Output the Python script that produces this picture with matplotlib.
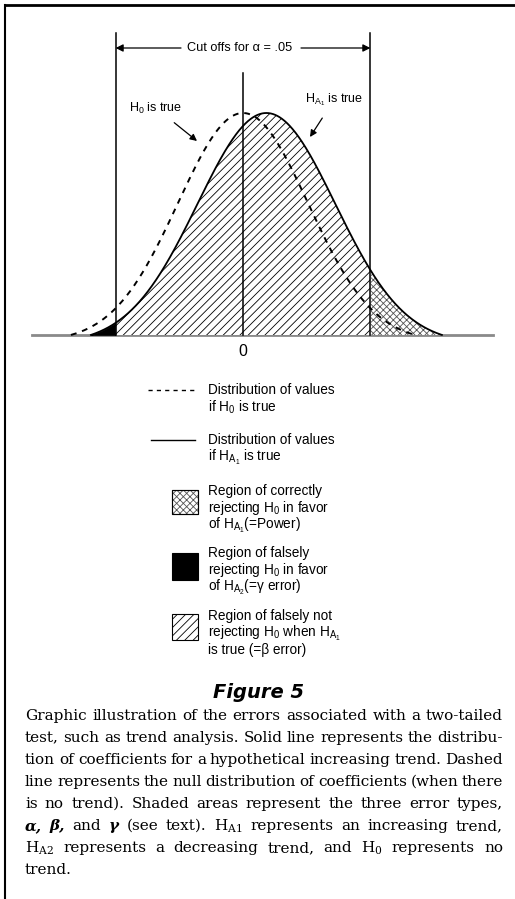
import numpy as np
import matplotlib
matplotlib.use("Agg")
import matplotlib.pyplot as plt
from matplotlib.lines import Line2D
from matplotlib.patches import Rectangle

plt.rcParams['font.family'] = ['Liberation Sans', 'DejaVu Sans']
plt.rcParams['mathtext.fontset'] = 'custom'
plt.rcParams['mathtext.rm'] = 'DejaVu Serif'
plt.rcParams['mathtext.sf'] = 'Liberation Sans'
plt.rcParams['hatch.linewidth'] = 0.6

# distributions, in units of the null standard deviation
alpha = 0.05
z_crit = 1.96            # two-tailed cut off for alpha = .05
h0_mean, h0_sd, h0_tail = 0.0, 1.0, 2.65      # tail: where the drawn curve meets the baseline
ha1_mean, ha1_sd, ha1_tail = 0.36, 1.06, 2.55

legend_lines = [
    ["Distribution of values", "if H$_{\\mathsf{0}}$ is true"],
    ["Distribution of values", "if H$_{\\mathsf{A_1}}$ is true"],
    ["Region of correctly", "rejecting H$_{\\mathsf{0}}$ in favor", "of H$_{\\mathsf{A_1}}$(=Power)"],
    ["Region of falsely", "rejecting H$_{\\mathsf{0}}$ in favor", "of H$_{\\mathsf{A_2}}$(=\u03b3 error)"],
    ["Region of falsely not", "rejecting H$_{\\mathsf{0}}$ when H$_{\\mathsf{A_1}}$", "is true (=\u03b2 error)"],
]

caption = [
    "Graphic illustration of the errors associated with a two-tailed",
    "test, such as trend analysis. Solid line represents the distribu-",
    "tion of coefficients for a hypothetical increasing trend. Dashed",
    "line represents the null distribution of coefficients (when there",
    "is no trend). Shaded areas represent the three error types,",
    "\u03b1, \u03b2, and \u03b3 (see text).  H$_{\\mathrm{A1}}$ represents an increasing trend,",
    "H$_{\\mathrm{A2}}$ represents a decreasing trend, and H$_{\\mathrm{0}}$ represents no",
    "trend.",
]
greek_words = {"\u03b1,", "\u03b2,", "\u03b3"}

W, H = 515, 899
fig = plt.figure(figsize=(W / 100, H / 100), dpi=100)


def fx(px):
    return px / W


def fy(py):
    return 1 - py / H


# main drawing, pixel frame: centre 243, 65 px per sd, baseline 335, peak 222 px
ax = fig.add_axes([fx(20), fy(345), fx(505) - fx(20), fy(20) - fy(345)])
ax.set_xlim((20 - 243) / 65, (505 - 243) / 65)
ax.set_ylim(-10 / 222, 315 / 222)
ax.axis('off')


def curve(x, m, s, tail):
    e0 = np.exp(-tail ** 2 / 2)
    y = (np.exp(-((x - m) / s) ** 2 / 2) - e0) / (1 - e0)
    return np.clip(y, 0, None)


x = np.linspace(-3.3, 3.9, 1500)
y0 = curve(x, h0_mean, h0_sd, h0_tail)
y1 = curve(x, ha1_mean, ha1_sd, ha1_tail)
x0_rng = np.abs(x - h0_mean) <= h0_tail * h0_sd
x1_rng = np.abs(x - ha1_mean) <= ha1_tail * ha1_sd

ax.plot([-3.25, 3.85], [0, 0], color='#8a8a8a', lw=2, zorder=1)

beta = (x >= -z_crit) & (x <= z_crit)
gamma = (x <= -z_crit) & x1_rng
power = (x >= z_crit) & x1_rng
ax.fill_between(x, 0, y1, where=beta, facecolor='white', edgecolor='black',
                hatch='////', linewidth=0, zorder=2)
ax.fill_between(x, 0, y1, where=gamma, facecolor='black', edgecolor='black',
                linewidth=0.5, zorder=2)
ax.fill_between(x, 0, y1, where=power, facecolor='white', edgecolor='#555555',
                hatch='xxxxx', linewidth=0, zorder=2)

ax.plot(x[x1_rng], y1[x1_rng], color='black', lw=1.3, zorder=4)
ax.plot(x[x0_rng], y0[x0_rng], color='black', lw=1.4, ls=(0, (3, 3)), zorder=5)

top_cut = (335 - 33) / 222
ax.plot([-z_crit, -z_crit], [0, top_cut], color='black', lw=1.1, zorder=6)
ax.plot([z_crit, z_crit], [0, top_cut], color='black', lw=1.1, zorder=6)
ax.plot([0, 0], [0, (335 - 73) / 222], color='black', lw=1.1, zorder=6)

y_arr = (335 - 48) / 222
ax.annotate('', xy=(-z_crit, y_arr), xytext=((181 - 243) / 65, y_arr),
            arrowprops=dict(arrowstyle='-|>', color='black', lw=0.9,
                            mutation_scale=11, shrinkA=0, shrinkB=0))
ax.annotate('', xy=(z_crit, y_arr), xytext=((301 - 243) / 65, y_arr),
            arrowprops=dict(arrowstyle='-|>', color='black', lw=0.9,
                            mutation_scale=11, shrinkA=0, shrinkB=0))
ax.text((240 - 243) / 65, y_arr, 'Cut offs for \u03b1 = .05', ha='center', va='center',
        fontsize=9.2)

ax.annotate('H$_{\\mathsf{0}}$ is true', xy=((197 - 243) / 65, (335 - 141) / 222),
            xytext=((156 - 243) / 65, (335 - 108) / 222), ha='center', va='center',
            fontsize=9,
            arrowprops=dict(arrowstyle='-|>', color='black', lw=0.9,
                            mutation_scale=10, shrinkA=5, shrinkB=0))
ax.annotate('H$_{\\mathsf{A_1}}$ is true', xy=((310 - 243) / 65, (335 - 137) / 222),
            xytext=((334 - 243) / 65, (335 - 100) / 222), ha='center', va='center',
            fontsize=9,
            arrowprops=dict(arrowstyle='-|>', color='black', lw=0.9,
                            mutation_scale=10, shrinkA=6, shrinkB=0))
ax.text(0, -(351 - 335) / 222, '0', ha='center', va='center', fontsize=11.5)

# legend
fig.add_artist(Line2D([fx(148), fx(195)], [fy(390), fy(390)], color='black',
                      lw=1.0, ls=(0, (3, 3))))
fig.add_artist(Line2D([fx(151), fx(195)], [fy(440), fy(440)], color='black', lw=1.0))
fig.add_artist(Rectangle((fx(172), fy(514)), fx(26), fy(0) - fy(24), facecolor='white',
                         edgecolor='#555555', hatch='xxxxx', lw=0.8))
fig.add_artist(Rectangle((fx(172), fy(514)), fx(26), fy(0) - fy(24), facecolor='none',
                         edgecolor='black', lw=0.8))
fig.add_artist(Rectangle((fx(172), fy(580)), fx(26), fy(0) - fy(27), facecolor='black',
                         edgecolor='black', lw=0.8))
fig.add_artist(Rectangle((fx(172), fy(640)), fx(26), fy(0) - fy(26), facecolor='white',
                         edgecolor='black', hatch='////', lw=0.8))

legend_y = [390, 440, 491, 553, 616]
for lines, y_start in zip(legend_lines, legend_y):
    for i, s in enumerate(lines):
        fig.text(fx(208), fy(y_start + 17 * i), s, ha='left', va='center', fontsize=9.8)

# caption
fig.text(fx(259), fy(692), 'Figure 5', ha='center', va='center', fontsize=14,
         family='DejaVu Sans', weight='bold', style='italic')

renderer = fig.canvas.get_renderer()
left, right = 25, 503
min_space = 3.2
base_fs = 10.0


def make_words(line, yy, fs):
    arts = []
    for w in line.split():
        if w in greek_words:
            t = fig.text(0, yy, w, fontsize=fs, family='DejaVu Serif', weight='bold',
                         style='italic', va='center', ha='left')
        else:
            t = fig.text(0, yy, w, fontsize=fs, family='DejaVu Serif', va='center',
                         ha='left')
        arts.append(t)
    return arts


# pick the font size so the tightest line just fits the column
need = 0
for line in caption[:-1]:
    arts = make_words(line, 0, base_fs)
    ws = [t.get_window_extent(renderer).width for t in arts]
    need = max(need, sum(ws) / (right - left - min_space * (len(ws) - 1)))
    for t in arts:
        t.remove()
cap_fs = base_fs / need

for k, line in enumerate(caption):
    yy = fy(716 + 22 * k)
    arts = make_words(line, yy, cap_fs)
    widths = [t.get_window_extent(renderer).width for t in arts]
    if k < len(caption) - 1 and len(arts) > 1:
        gap = (right - left - sum(widths)) / (len(arts) - 1)
    else:
        gap = min_space + 1
    pos = left
    for t, wd in zip(arts, widths):
        t.set_x(fx(pos))
        pos += wd + gap

# page frame
fig.add_artist(Line2D([fx(5), fx(515)], [fy(5), fy(5)], color='black', lw=2))
fig.add_artist(Line2D([fx(5), fx(5)], [fy(5), fy(899)], color='black', lw=1.5))

fig.savefig('out.png', dpi=100)
